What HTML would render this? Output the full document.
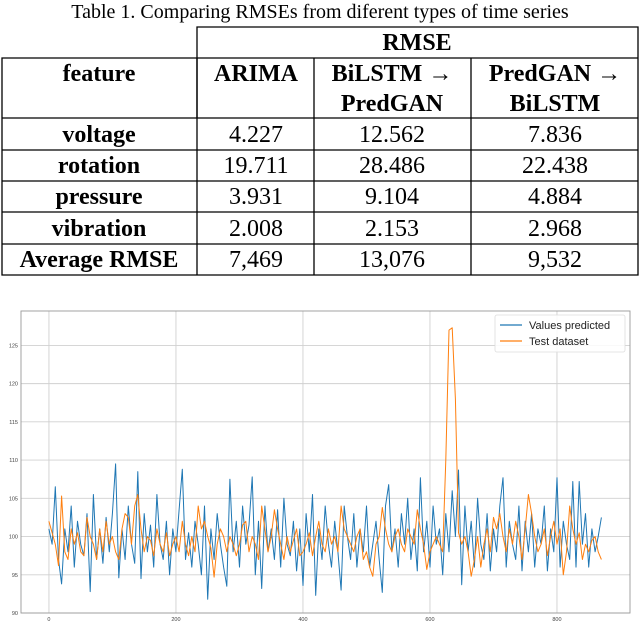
<!DOCTYPE html>
<html><head><meta charset="utf-8"><style>
html,body{margin:0;padding:0;background:#fff;}
svg{display:block;}
.serif{font-family:"Liberation Serif",serif;}
</style></head><body>
<svg id="page" width="640" height="622" viewBox="0 0 640 622" xmlns="http://www.w3.org/2000/svg">
<g class="serif">
<text x="320" y="18" font-size="20" text-anchor="middle">Table 1. Comparing RMSEs from diferent types of time series</text>
<g stroke="#000" stroke-width="1.3" fill="none">
<polyline points="197,118 197,27 638,27 638,275 2,275 2,58 638,58"/>
<line x1="2" y1="118" x2="638" y2="118"/>
<line x1="2" y1="150" x2="638" y2="150"/>
<line x1="2" y1="181" x2="638" y2="181"/>
<line x1="2" y1="212" x2="638" y2="212"/>
<line x1="2" y1="244" x2="638" y2="244"/>
<line x1="197" y1="58" x2="197" y2="275"/>
<line x1="314" y1="58" x2="314" y2="275"/>
<line x1="471" y1="58" x2="471" y2="275"/>
</g>
<g font-size="24" font-weight="bold" text-anchor="middle">
<text x="417" y="50">RMSE</text>
<text x="99" y="81">feature</text>
<text x="256" y="81">ARIMA</text>
<text x="392" y="81">BiLSTM →</text>
<text x="392" y="111">PredGAN</text>
<text x="555" y="81">PredGAN →</text>
<text x="555" y="111">BiLSTM</text>
<text x="99" y="142">voltage</text>
<text x="99" y="173">rotation</text>
<text x="99" y="204">pressure</text>
<text x="99" y="236">vibration</text>
<text x="99" y="267">Average RMSE</text>
</g>
<g font-size="24" text-anchor="middle">
<text x="256" y="142">4.227</text>
<text x="392" y="142">12.562</text>
<text x="555" y="142">7.836</text>
<text x="256" y="173">19.711</text>
<text x="392" y="173">28.486</text>
<text x="555" y="173">22.438</text>
<text x="256" y="204">3.931</text>
<text x="392" y="204">9.104</text>
<text x="555" y="204">4.884</text>
<text x="256" y="236">2.008</text>
<text x="392" y="236">2.153</text>
<text x="555" y="236">2.968</text>
<text x="256" y="267">7,469</text>
<text x="392" y="267">13,076</text>
<text x="555" y="267">9,532</text>
</g>
</g>
<g id="chart"></g>
</svg>
<script>
const xTicks=[0,200,400,600,800];
const yTicks=[90,95,100,105,110,115,120,125];
const step=5;
const predicted=[101,99,106.5,97,93.8,101,98,104,96,102,
99,97.5,103,92.8,105.5,97,101,96.5,102.5,98,
103,109.5,94.6,101,97,104,99,96.5,108.5,94.5,
103,98,101.5,96,105.5,99,97,102,95,101,
98,103.5,108.8,97,100.5,96,102,99,95,104,
91.8,101,97,103,99,96,93.5,107.5,98,102,
96,104,99,101.5,107.8,95,102,93.2,104,98,
101,97,103.5,96,105,99,97.5,102,95.5,101,
93.6,103,98,105.5,92.3,101,97,104,99,96,
102,98,93,104,100,97,103,96,101,98,
104,96,99,102,97,92.7,104,106.8,98,101,
96,103,99,105,97,101,95.5,107.7,98,102,
96,104,99,101,95,103,98,106,100,108.7,
93.7,104,98,102,96,105,99,97,103,95.5,
101,98,104,107.7,96,102,99,97,104,95.5,
102,98,103,96,101,99,104,95.5,101,98,
107.7,96,102,99,97,107.2,96,107.2,99,103,
96,101,98,100,102.5];
const testData=[102,100.5,99,96.2,105.3,98,97,101,99,100.5,
98,97.5,102.5,100,99,97,101,98,102,99,
100,98,97,101,103,102.5,99,104,105.5,101,
98,100,99.5,97.5,101,99,98,100.5,97.5,99,
100,98,102,99,97.5,100,98,104,101,102,
100,98.5,94.7,99,101,100,98,100,99,97.5,
99,101.5,102,98,100,99,97,104,101,98,
100,103.5,101,99,97,100,98,99.5,101,97.5,
98,99,100.5,97.5,100,102,99,98,101,99,
100,98,104,101,100,99,98,100,101,97,
98,96,94.8,99,100,103.8,101,99,98,100,
101,99,98,101,100,99,103.5,101,99,95.7,
98,99,100,99,98,110,127,127.3,118,100.5,
99,100,98,94.8,97,100,96,99,101,98,
102.5,101,103,100,98,101,99,102,100,97,
101,105.5,103,100,98,99,101,97.5,100,102,
99,101,95,98,104,101,99,100.5,97,99,
98,99.5,100,98,97];
const NS="http://www.w3.org/2000/svg";
const L=21,R=630,T=311,B=613;
const xMin=-44,xMax=915,yMin=90,yMax=129.5;
const sx=v=>L+(v-xMin)/(xMax-xMin)*(R-L);
const sy=v=>B-(v-yMin)/(yMax-yMin)*(B-T);
const g=document.getElementById('chart');
function mk(tag,attrs,parent){const e=document.createElementNS(NS,tag);for(const k in attrs)e.setAttribute(k,attrs[k]);(parent||g).appendChild(e);return e;}
const grid=mk('g',{stroke:'#d0d0d0','stroke-width':'0.9'});


xTicks.forEach(t=>{
 const l=mk('line',{x1:sx(t),x2:sx(t),y1:T,y2:B},grid);
 
 
 const tx=mk('text',{x:sx(t),y:B+8,'font-size':'5.5','text-anchor':'middle',fill:'#444','font-family':'Liberation Sans, sans-serif'});
 tx.textContent=t;
 
 
});
yTicks.forEach(t=>{
 const l=mk('line',{x1:L,x2:R,y1:sy(t),y2:sy(t)},grid);
 
 
 const tx=mk('text',{x:L-3,y:sy(t)+2,'font-size':'5.5','text-anchor':'end',fill:'#444','font-family':'Liberation Sans, sans-serif'});
 tx.textContent=t;
 
 
});
const frame=mk('rect',{x:L,y:T,width:R-L,height:B-T,fill:'none',stroke:'#999','stroke-width':'0.9'});


function series(arr,color,name){
 const pts=arr.map((v,i)=>sx(i*step).toFixed(1)+','+sy(v).toFixed(1)).join(' ');
 const p=mk('polyline',{points:pts,fill:'none',stroke:color,'stroke-width':'1','stroke-linejoin':'round'});
 
 
}
series(predicted,'#1f77b4','values-predicted-line');
series(testData,'#ff7f0e','test-dataset-line');
const lg=mk('g',{});


mk('rect',{x:495,y:315,width:130,height:37,fill:'#fff','fill-opacity':'0.85',stroke:'#ddd','stroke-width':'0.8',rx:'2'},lg);
mk('line',{x1:500,x2:522,y1:325,y2:325,stroke:'#1f77b4','stroke-width':'1.2'},lg);
mk('line',{x1:500,x2:522,y1:341,y2:341,stroke:'#ff7f0e','stroke-width':'1.2'},lg);
const t1=mk('text',{x:529,y:329,'font-size':'11','font-family':'Liberation Sans, sans-serif',fill:'#222'},lg);
t1.textContent='Values predicted';


const t2=mk('text',{x:529,y:345,'font-size':'11','font-family':'Liberation Sans, sans-serif',fill:'#222'},lg);
t2.textContent='Test dataset';


</script>
</body></html>
